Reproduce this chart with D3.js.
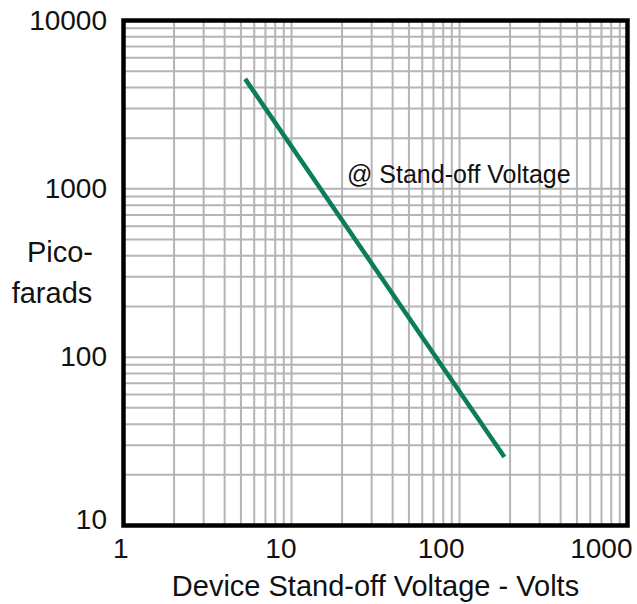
<!DOCTYPE html>
<html>
<head>
<meta charset="utf-8">
<title>Capacitance vs stand-off voltage</title>
<script src="https://d3js.org/d3.v7.min.js"></script>
<style>
  body { margin: 0; background: #fff; }
  text { font-family: "Liberation Sans", Arial, sans-serif; fill: #111; }
</style>
</head>
<body>
<svg id="chart" width="637" height="604"></svg>
<script>
// data
var xTicks = [1, 10, 100, 1000];
var yTicks = [10, 100, 1000, 10000];
var voltage = [5.3, 185];
var picofarads = [4500, 25.5];
var noteText = "@ Stand-off Voltage";

function draw() {
  var svg = d3.select("#chart");
  var left = 123.5, right = 627.5, top = 20.5, bottom = 525.5;

  var x = d3.scaleLog().domain([1, 1000]).range([left, right]);
  var y = d3.scaleLog().domain([10, 10000]).range([bottom, top]);

  // grid
  var grid = svg.append("g").attr("stroke", "#b5b5b5").attr("stroke-width", 2);
  grid.selectAll("line.v").data(x.ticks()).enter().append("line")
    .attr("class", "v")
    .attr("x1", function(d) { return x(d); }).attr("x2", function(d) { return x(d); })
    .attr("y1", top).attr("y2", bottom);
  grid.selectAll("line.h").data(y.ticks()).enter().append("line")
    .attr("class", "h")
    .attr("y1", function(d) { return y(d); }).attr("y2", function(d) { return y(d); })
    .attr("x1", left).attr("x2", right);

  // curve
  var pts = voltage.map(function(v, i) { return [v, picofarads[i]]; });
  svg.append("path")
    .attr("d", d3.line().x(function(d) { return x(d[0]); }).y(function(d) { return y(d[1]); })(pts))
    .attr("fill", "none").attr("stroke", "#0b7d5c").attr("stroke-width", 4.5);

  // frame
  svg.append("rect")
    .attr("x", left).attr("y", top)
    .attr("width", right - left).attr("height", bottom - top)
    .attr("fill", "none").attr("stroke", "#000").attr("stroke-width", 4.5);

  // tick labels
  svg.selectAll("text.yl").data(yTicks).enter().append("text")
    .attr("class", "yl")
    .attr("x", 107)
    .attr("y", function(d) { return y(d) + (d === 10 ? 3 : 9); })
    .attr("text-anchor", "end").attr("font-size", 28)
    .text(function(d) { return d; });
  svg.selectAll("text.xl").data(xTicks).enter().append("text")
    .attr("class", "xl")
    .attr("x", function(d) { return x(d) + 5; })
    .attr("y", 558)
    .attr("text-anchor", "end").attr("font-size", 28)
    .text(function(d) { return d; });

  // titles
  svg.append("text").attr("x", 375.5).attr("y", 596)
    .attr("text-anchor", "middle").attr("font-size", 29)
    .text("Device Stand-off Voltage - Volts");
  svg.append("text").attr("x", 60).attr("y", 262)
    .attr("text-anchor", "middle").attr("font-size", 29).text("Pico-");
  svg.append("text").attr("x", 52).attr("y", 303)
    .attr("text-anchor", "middle").attr("font-size", 29).text("farads");

  svg.append("text").attr("x", 347).attr("y", 183)
    .attr("font-size", 25).text(noteText);
}
draw();
</script>
</body>
</html>
